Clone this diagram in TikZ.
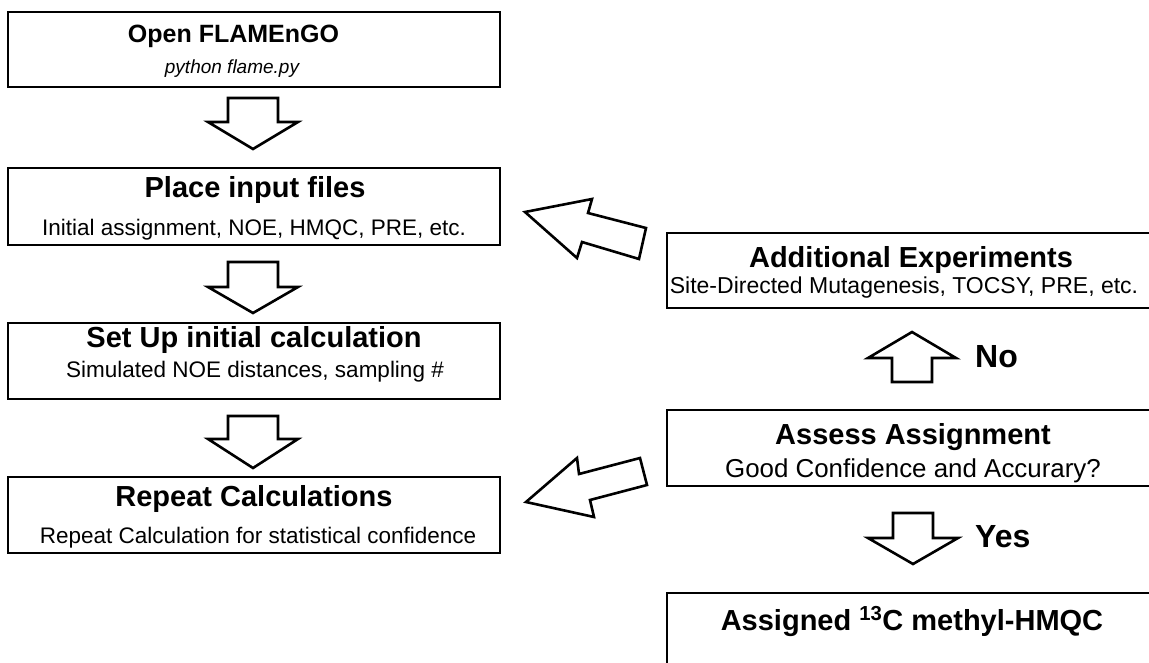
\documentclass[tikz,border=0pt]{standalone}
\usepackage{fontspec}
\setmainfont{Liberation Sans}
\newcommand{\blkdown}[6]{%
  \draw[blockarrow] (#1-#5,#2) -- (#1+#5,#2) -- (#1+#5,#3) -- (#1+#6,#3) -- (#1,#4) -- (#1-#6,#3) -- (#1-#5,#3) -- cycle;}
\begin{document}
\begin{tikzpicture}[x=1pt,y=-1pt,
  box/.style={draw, line width=2.6pt, inner sep=0pt, fill=white},
  ttl/.style={anchor=base, inner sep=0pt, font=\fontsize{29}{32}\selectfont\bfseries},
  sub/.style={anchor=base, inner sep=0pt, font=\fontsize{22.5}{25}\selectfont},
  blockarrow/.style={draw, line width=2.6pt, fill=white, line join=miter, miter limit=10},
  answer/.style={anchor=base west, inner sep=0pt, font=\fontsize{32}{34}\selectfont\bfseries}]
\useasboundingbox (0,0) rectangle (1149,662);
\clip (0,0) rectangle (1149,662);
% left column boxes
\node[box, minimum width=492pt, minimum height=75pt] (open) at (254,49.5) {};
\node[box, minimum width=492pt, minimum height=77pt] (place) at (254,206.5) {};
\node[box, minimum width=492pt, minimum height=76pt] (setup) at (254,361) {};
\node[box, minimum width=492pt, minimum height=76pt] (repeat) at (254,515) {};
% right column boxes
\node[box, minimum width=486pt, minimum height=75pt] (addexp) at (910,270.5) {};
\node[box, minimum width=486pt, minimum height=76pt] (assess) at (910,448) {};
\node[box, minimum width=486pt, minimum height=79pt] (assigned) at (910,632.5) {};
% texts
\node[ttl, font=\fontsize{25}{28}\selectfont\bfseries] (t1) at (233.5,42) {Open FLAMEnGO};
\node[sub, font=\fontsize{19}{22}\selectfont\itshape] (s1) at (232,73) {python flame.py};
\node[ttl] (t2) at (255,197) {Place input files};
\node[sub] (s2) at (254,235) {Initial assignment, NOE, HMQC, PRE, etc.};
\node[ttl] (t3) at (254,347) {Set Up initial calculation};
\node[sub] (s3) at (255,377) {Simulated NOE distances, sampling \#};
\node[ttl] (t4) at (254,506) {Repeat Calculations};
\node[sub] (s4) at (258,543) {Repeat Calculation for statistical confidence};
\node[ttl] (t5) at (911,267) {Additional Experiments};
\node[sub, font=\fontsize{23}{25}\selectfont] (s5) at (904,293) {Site-Directed Mutagenesis, TOCSY, PRE, etc.};
\node[ttl] (t6) at (913,444) {Assess Assignment};
\node[sub, font=\fontsize{25.9}{28}\selectfont] (s6) at (913,477) {Good Confidence and Accurary?};
\node[ttl] (t7) at (912,630) {Assigned \textsuperscript{13}C methyl-HMQC};
% down block arrows (left column)
\blkdown{253}{98}{122}{149}{25}{45}
\blkdown{253}{262}{287}{313}{25}{45}
\blkdown{253}{416}{439}{468}{25}{45}
% up arrow (No)
\draw[blockarrow] (892,382) -- (932,382) -- (932,358) -- (956,358) -- (912,332) -- (868,358) -- (892,358) -- cycle;
\node[answer] (no) at (975,367) {No};
% down arrow (Yes)
\blkdown{913}{513}{538}{564}{20}{45}
\node[answer] (yes) at (975,547) {Yes};
% diagonal arrow to Place input files
\draw[blockarrow] (525,212) -- (592,199) -- (588,213) -- (646,228) -- (639,259) -- (582,242) -- (577,258) -- cycle;
% diagonal arrow to Repeat Calculations
\draw[blockarrow] (526,502) -- (577,458) -- (579,474) -- (640,458) -- (647,485) -- (590,500) -- (594,517) -- cycle;
\end{tikzpicture}
\end{document}
